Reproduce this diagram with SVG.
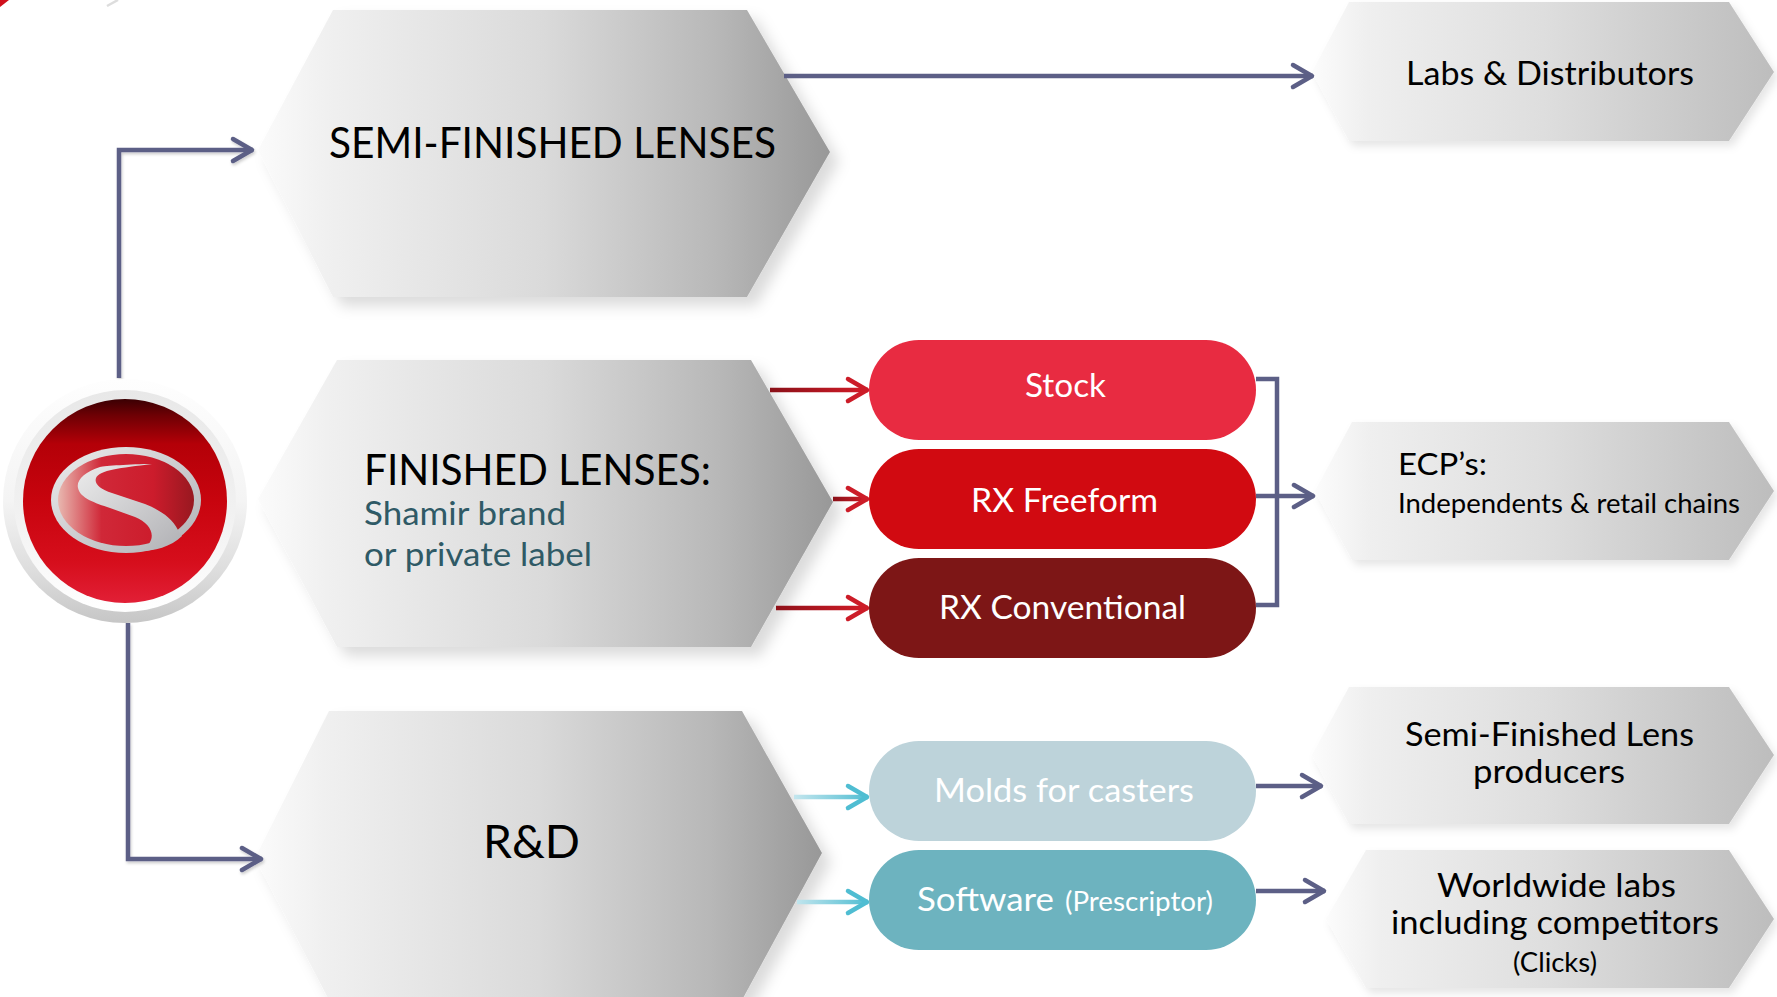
<svg xmlns="http://www.w3.org/2000/svg" width="1777" height="997" viewBox="0 0 1777 997">
<style>
text{font-family:"Lato","Carlito","Open Sans",sans-serif;fill:#000}
.c{fill:none;stroke:#5c5f86;stroke-width:4.5}
.hex{fill:url(#hg);filter:url(#sh)}
.chev{fill:url(#cg);filter:url(#sh2)}
.red{fill:none;stroke-width:4.5}
.w{fill:#fff}
.t{fill:#2f5a66}
</style>
<defs>
<linearGradient id="hg" x1="0" x2="1" y1="0" y2="0"><stop offset="0" stop-color="#fbfbfb"/><stop offset=".12" stop-color="#f0f0f0"/><stop offset=".5" stop-color="#dadada"/><stop offset=".8" stop-color="#b8b8b8"/><stop offset="1" stop-color="#989898"/></linearGradient>
<linearGradient id="cg" x1="0" x2="1" y1="0" y2="0"><stop offset="0" stop-color="#fcfcfc"/><stop offset=".12" stop-color="#efefef"/><stop offset=".5" stop-color="#dedede"/><stop offset="1" stop-color="#bdbdbd"/></linearGradient>
<linearGradient id="rg1" gradientUnits="userSpaceOnUse" x1="770" x2="869" y1="0" y2="0"><stop offset="0" stop-color="#8a1018"/><stop offset="1" stop-color="#d41c28"/></linearGradient>
<linearGradient id="rg2" gradientUnits="userSpaceOnUse" x1="833" x2="869" y1="0" y2="0"><stop offset="0" stop-color="#8a1018"/><stop offset="1" stop-color="#d41c28"/></linearGradient>
<linearGradient id="tg" gradientUnits="userSpaceOnUse" x1="794" x2="869" y1="0" y2="0"><stop offset="0" stop-color="#c4e6ee"/><stop offset="1" stop-color="#4fbdd2"/></linearGradient>
<linearGradient id="disc" x1="0" x2="0" y1="0" y2="1"><stop offset="0" stop-color="#3a0003"/><stop offset=".08" stop-color="#6e0004"/><stop offset=".22" stop-color="#b40008"/><stop offset=".5" stop-color="#c8040e"/><stop offset=".8" stop-color="#d60e1c"/><stop offset="1" stop-color="#e21f36"/></linearGradient>
<linearGradient id="outer" x1="0" x2="0" y1="0" y2="1"><stop offset="0" stop-color="#fefefe"/><stop offset=".5" stop-color="#f4f4f4"/><stop offset=".8" stop-color="#dcdcdc"/><stop offset="1" stop-color="#c6c6c6"/></linearGradient>
<linearGradient id="ring" x1="0" x2="0" y1="0" y2="1"><stop offset="0" stop-color="#e8e8e8"/><stop offset=".6" stop-color="#f2f2f2"/><stop offset="1" stop-color="#fff"/></linearGradient>
<linearGradient id="emb" x1="0" x2="1" y1="0" y2="0"><stop offset="0" stop-color="#e8b8b0"/><stop offset=".32" stop-color="#d02838"/><stop offset=".7" stop-color="#cc1c2c"/><stop offset="1" stop-color="#981820"/></linearGradient>
<linearGradient id="silver" x1="0" x2="1" y1="0" y2="1"><stop offset="0" stop-color="#ececec"/><stop offset="1" stop-color="#b0b0b4"/></linearGradient>
<filter id="sh" x="-10%" y="-10%" width="125%" height="125%"><feDropShadow dx="9" dy="9" stdDeviation="7" flood-color="#000" flood-opacity=".14"/></filter>
<filter id="sh2" x="-10%" y="-10%" width="125%" height="125%"><feDropShadow dx="4" dy="5" stdDeviation="4" flood-color="#000" flood-opacity=".1"/></filter>
<filter id="ls" x="-10%" y="-10%" width="120%" height="120%"><feDropShadow dx="1" dy="2" stdDeviation="1.5" flood-color="#000" flood-opacity=".2"/></filter>
<marker id="ad" markerUnits="userSpaceOnUse" markerWidth="30" markerHeight="30" refX="26" refY="15" orient="auto" viewBox="0 0 30 30"><path d="M6,4 L25,15 L6,26" fill="none" stroke="#5c5f86" stroke-width="4.5" stroke-linecap="round" stroke-linejoin="round"/></marker>
<marker id="ar" markerUnits="userSpaceOnUse" markerWidth="30" markerHeight="30" refX="26" refY="15" orient="auto" viewBox="0 0 30 30"><path d="M6,4 L25,15 L6,26" fill="none" stroke="#cc1c28" stroke-width="4.5" stroke-linecap="round" stroke-linejoin="round"/></marker>
<marker id="at" markerUnits="userSpaceOnUse" markerWidth="30" markerHeight="30" refX="26" refY="15" orient="auto" viewBox="0 0 30 30"><path d="M6,4 L25,15 L6,26" fill="none" stroke="#4fbdd2" stroke-width="4.5" stroke-linecap="round" stroke-linejoin="round"/></marker>
</defs>
<rect width="1777" height="997" fill="#fff"/>
<path d="M0,0H9L0,7Z" fill="#d0101c"/>
<path d="M107,6L118,0" stroke="#ddd" stroke-width="2.5" fill="none"/>

<g id="hex-semi"><polygon class="hex" points="258,150 333,10 747,10 830,152 747,297 333,297"/><text x="329" y="158" font-size="43" textLength="447" lengthAdjust="spacingAndGlyphs">SEMI-FINISHED LENSES</text></g>
<g id="hex-finished"><polygon class="hex" points="258,499 337,360 751,360 833,502 751,647 337,647"/><text x="364" y="485" font-size="43" textLength="347" lengthAdjust="spacingAndGlyphs">FINISHED LENSES:</text><text class="t" x="364" y="525" font-size="33" textLength="202" lengthAdjust="spacingAndGlyphs">Shamir brand</text><text class="t" x="364" y="566" font-size="33" textLength="228" lengthAdjust="spacingAndGlyphs">or private label</text></g>
<g id="hex-rd"><polygon class="hex" points="255,858 329,711 742,711 822,853 742,1000 329,1000"/><text x="483" y="858" font-size="46" textLength="97" lengthAdjust="spacingAndGlyphs">R&amp;D</text></g>

<g id="box-labs"><polygon class="chev" points="1312,72 1349,2 1729,2 1774,72 1729,141 1349,141"/><text x="1406" y="85" font-size="33" textLength="288" lengthAdjust="spacingAndGlyphs">Labs &amp; Distributors</text></g>
<g id="box-ecp"><polygon class="chev" points="1315,491 1352,422 1729,422 1774,491 1729,560 1352,560"/><text x="1398" y="475" font-size="31" textLength="89" lengthAdjust="spacingAndGlyphs">ECP’s:</text><text x="1398" y="513" font-size="26" textLength="342" lengthAdjust="spacingAndGlyphs">Independents &amp; retail chains</text></g>
<g id="box-producers"><polygon class="chev" points="1312,755 1349,687 1729,687 1774,755 1729,824 1349,824"/><text x="1405" y="746" font-size="33" textLength="289" lengthAdjust="spacingAndGlyphs">Semi-Finished Lens</text><text x="1473" y="783" font-size="33" textLength="152" lengthAdjust="spacingAndGlyphs">producers</text></g>
<g id="box-worldwide"><polygon class="chev" points="1326,919 1366,850 1729,850 1774,919 1729,988 1366,988"/><text x="1437" y="897" font-size="33" textLength="239" lengthAdjust="spacingAndGlyphs">Worldwide labs</text><text x="1391" y="934" font-size="33" textLength="328" lengthAdjust="spacingAndGlyphs">including competitors</text><text x="1513" y="972" font-size="26" textLength="84" lengthAdjust="spacingAndGlyphs">(Clicks)</text></g>

<g id="connectors">
<path class="c" d="M119,378V150H253" marker-end="url(#ad)" filter="url(#ls)"/>
<path class="c" d="M128,623V859H262" marker-end="url(#ad)" filter="url(#ls)"/>
<path class="c" d="M784,76H1313" marker-end="url(#ad)"/>
<path class="c" d="M1256,379H1277V605H1256"/>
<path class="c" d="M1256,496H1314" marker-end="url(#ad)"/>
<path class="c" d="M1256,786H1322" marker-end="url(#ad)"/>
<path class="c" d="M1256,891H1325" marker-end="url(#ad)"/>
<path class="red" stroke="url(#rg1)" d="M770,390H868" marker-end="url(#ar)"/>
<path class="red" stroke="url(#rg2)" d="M833,499H868" marker-end="url(#ar)"/>
<path class="red" stroke="url(#rg1)" d="M776,608H868" marker-end="url(#ar)"/>
<path class="red" stroke="url(#tg)" d="M794,797H868" marker-end="url(#at)"/>
<path class="red" stroke="url(#tg)" d="M797,902H868" marker-end="url(#at)"/>
</g>

<g id="pill-stock"><rect x="869" y="340" width="387" height="100" rx="50" fill="#e82b41"/><text class="w" x="1025" y="397" font-size="33" textLength="81" lengthAdjust="spacingAndGlyphs">Stock</text></g>
<g id="pill-freeform"><rect x="869" y="449" width="387" height="100" rx="50" fill="#d10a11"/><text class="w" x="971" y="512" font-size="33" textLength="187" lengthAdjust="spacingAndGlyphs">RX Freeform</text></g>
<g id="pill-conventional"><rect x="869" y="558" width="387" height="100" rx="50" fill="#7d1616"/><text class="w" x="939" y="619" font-size="33" textLength="247" lengthAdjust="spacingAndGlyphs">RX Conventional</text></g>
<g id="pill-molds"><rect x="869" y="741" width="387" height="100" rx="50" fill="#bdd3da"/><text class="w" x="934" y="802" font-size="33" textLength="260" lengthAdjust="spacingAndGlyphs">Molds for casters</text></g>
<g id="pill-software"><rect x="869" y="850" width="387" height="100" rx="50" fill="#6db3bf"/><text class="w" x="917" y="911" font-size="33" textLength="137" lengthAdjust="spacingAndGlyphs">Software</text><text class="w" x="1065" y="911" font-size="26" textLength="148" lengthAdjust="spacingAndGlyphs">(Prescriptor)</text></g>

<g id="logo">
<circle cx="125" cy="501" r="122" fill="url(#outer)"/>
<circle cx="125" cy="501" r="111" fill="url(#ring)"/>
<circle cx="125" cy="501" r="102" fill="url(#disc)"/>
<ellipse cx="126" cy="500" rx="75" ry="53" fill="url(#silver)"/>
<ellipse cx="126" cy="500" rx="68" ry="46" fill="url(#emb)"/>
<path d="M152,464C130,464 105,466 100,467C85,472 76,480 78,488C80,498 95,503 110,508L135,517C148,522 154,532 151,540C149,546 143,549 135,551C150,552 170,548 182,536L178,530C172,518 160,510 145,504L112,493C100,489 94,484 96,478C100,470 120,468 152,464Z" fill="url(#silver)"/>
</g>
</svg>
